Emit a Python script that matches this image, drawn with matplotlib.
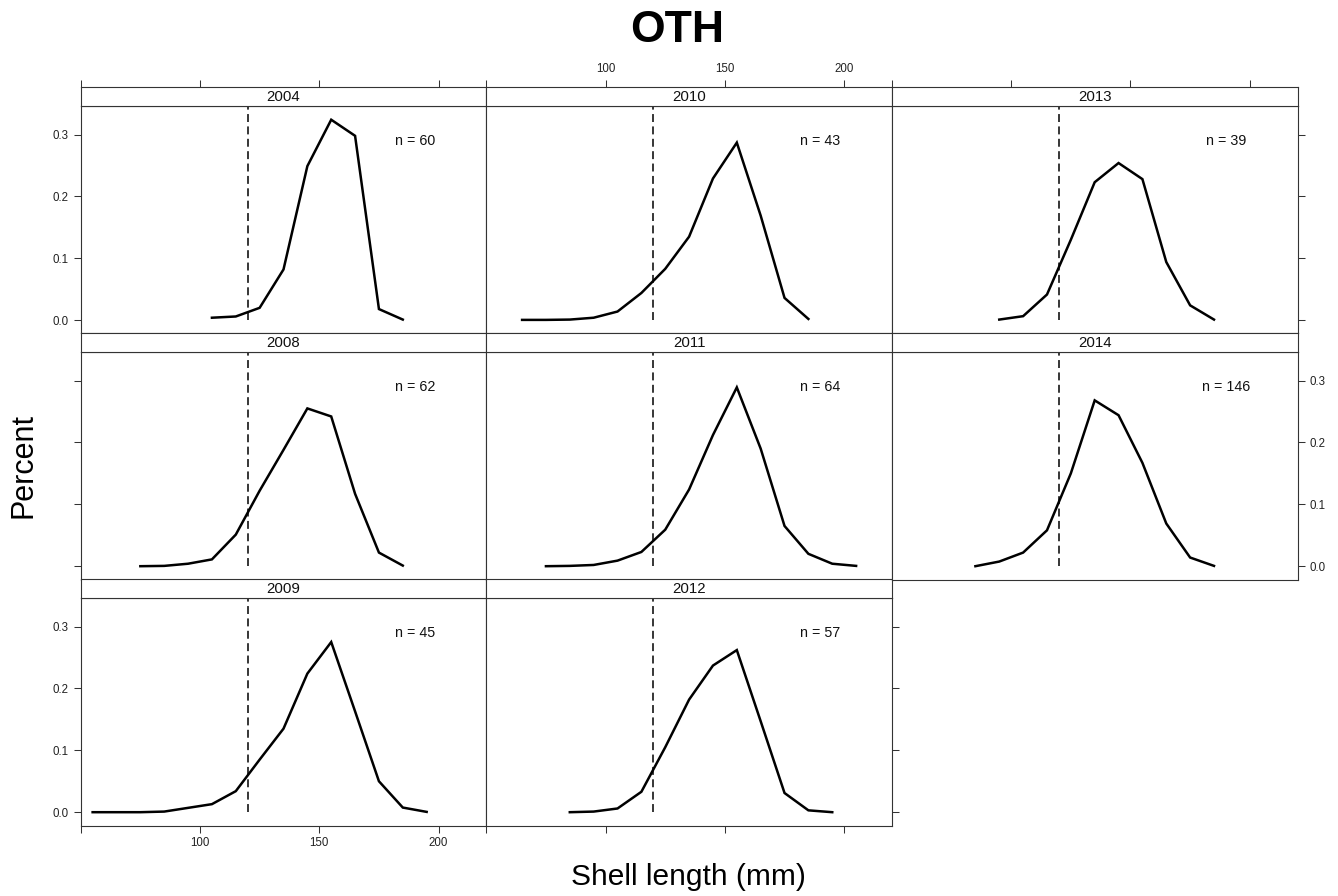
import matplotlib
matplotlib.use('Agg')
import matplotlib.pyplot as plt

plt.rcParams['font.family'] = ['Liberation Sans', 'DejaVu Sans']

# shell length bin mid-points (mm) and proportions per year
len_2004 = [105, 115, 125, 135, 145, 155, 165, 175, 185]
pct_2004 = [0.004, 0.006, 0.020, 0.082, 0.249, 0.324, 0.298, 0.018, 0.001]

len_2008 = [75, 85, 95, 105, 115, 125, 135, 145, 155, 165, 175, 185]
pct_2008 = [0.0, 0.0005, 0.004, 0.011, 0.051, 0.122, 0.188, 0.255, 0.242, 0.117, 0.022, 0.001]

len_2009 = [55, 65, 75, 85, 95, 105, 115, 125, 135, 145, 155, 165, 175, 185, 195]
pct_2009 = [0.0, 0.0, 0.0, 0.001, 0.007, 0.013, 0.034, 0.085, 0.135, 0.224, 0.275, 0.163, 0.050, 0.0075, 0.0005]

len_2010 = [65, 75, 85, 95, 105, 115, 125, 135, 145, 155, 165, 175, 185]
pct_2010 = [0.0005, 0.0005, 0.001, 0.004, 0.014, 0.044, 0.083, 0.135, 0.229, 0.287, 0.169, 0.036, 0.002]

len_2011 = [75, 85, 95, 105, 115, 125, 135, 145, 155, 165, 175, 185, 195, 205]
pct_2011 = [0.0, 0.0005, 0.002, 0.009, 0.023, 0.059, 0.124, 0.212, 0.289, 0.190, 0.065, 0.020, 0.004, 0.0005]

len_2012 = [85, 95, 105, 115, 125, 135, 145, 155, 165, 175, 185, 195]
pct_2012 = [0.0, 0.001, 0.006, 0.033, 0.105, 0.182, 0.237, 0.262, 0.147, 0.031, 0.003, 0.0]

len_2013 = [95, 105, 115, 125, 135, 145, 155, 165, 175, 185]
pct_2013 = [0.001, 0.0065, 0.0415, 0.130, 0.223, 0.254, 0.228, 0.094, 0.024, 0.001]

len_2014 = [85, 95, 105, 115, 125, 135, 145, 155, 165, 175, 185]
pct_2014 = [0.0, 0.0075, 0.022, 0.058, 0.150, 0.268, 0.244, 0.167, 0.069, 0.014, 0.0005]

years = ['2004', '2008', '2009', '2010', '2011', '2012', '2013', '2014']
sample_n = [60, 62, 45, 43, 64, 57, 39, 146]
lengths = [len_2004, len_2008, len_2009, len_2010, len_2011, len_2012, len_2013, len_2014]
pcts = [pct_2004, pct_2008, pct_2009, pct_2010, pct_2011, pct_2012, pct_2013, pct_2014]
size_limit = 120

W, H = 1338, 896
fig = plt.figure(figsize=(W / 100, H / 100), dpi=100)

col_left = [80.7, 486.3, 891.9]
col_w = 405.6
row_top = [87.3, 333.3, 579.3]
strip_h = 18.5
panel_h = 227.7

frame_col = '#333333'
xt = [50, 100, 150, 200]
xtl = ['', '100', '150', '200']
yt = [0.0, 0.1, 0.2, 0.3]
ytl = ['0.0', '0.1', '0.2', '0.3']


def rect(x, y, w, h):
    return [x / W, 1 - (y + h) / H, w / W, h / H]


def style(ax):
    for s in ax.spines.values():
        s.set_color(frame_col)
        s.set_linewidth(0.8)
    ax.tick_params(direction='out', length=5, width=0.75, colors=frame_col,
                   labelcolor='#222222', labelsize=8.3, pad=3.5)


for i, yr in enumerate(years):
    r, c = i % 3, i // 3
    ax = fig.add_axes(rect(col_left[c], row_top[r] + strip_h, col_w, panel_h))
    sax = fig.add_axes(rect(col_left[c], row_top[r], col_w, strip_h))
    style(ax)
    style(sax)

    ax.plot(lengths[i], pcts[i], color='black', lw=1.8, solid_joinstyle='miter')
    ax.plot([size_limit, size_limit], [0, 0.4], color='black', lw=1.1,
            linestyle=(0, (5.2, 2.9)))
    ax.text(190, 0.29, 'n = %d' % sample_n[i], ha='center', va='center',
            fontsize=10.3, color='#111111')
    ax.set_xlim(50, 220)
    ax.set_ylim(-0.0215, 0.3465)

    # y ticks
    left = c == 0
    right = (c == 2 and r < 2) or (c == 1 and r == 2)
    ax.set_yticks(yt)
    ax.set_yticklabels(ytl)
    ax.tick_params(axis='y', left=left, labelleft=left and r != 1,
                   right=right, labelright=(c == 2 and r == 1))

    # x ticks
    bottom = r == 2
    ax.set_xticks(xt)
    ax.set_xticklabels(xtl)
    ax.tick_params(axis='x', bottom=bottom, labelbottom=bottom and c == 0,
                   top=False, labeltop=False)

    # strip
    sax.set_xlim(50, 220)
    sax.set_yticks([])
    sax.set_xticks(xt)
    sax.set_xticklabels(xtl)
    sax.tick_params(axis='x', bottom=False, labelbottom=False,
                    top=r == 0, labeltop=(r == 0 and c == 1))
    sax.text(0.5, 0.5, yr, transform=sax.transAxes, ha='center', va='center',
             fontsize=10.8, color='#111111')

fig.text(677.5 / W, 1 - 30 / H, 'OTH', ha='center', va='center',
         fontsize=32, fontweight='bold')
fig.text(688.7 / W, 1 - 877 / H, 'Shell length (mm)', ha='center', va='center',
         fontsize=21.5)
fig.text(24 / W, 1 - 465 / H, 'Percent', ha='center', va='center',
         fontsize=22, rotation=90)

fig.savefig('out.png', dpi=100)
